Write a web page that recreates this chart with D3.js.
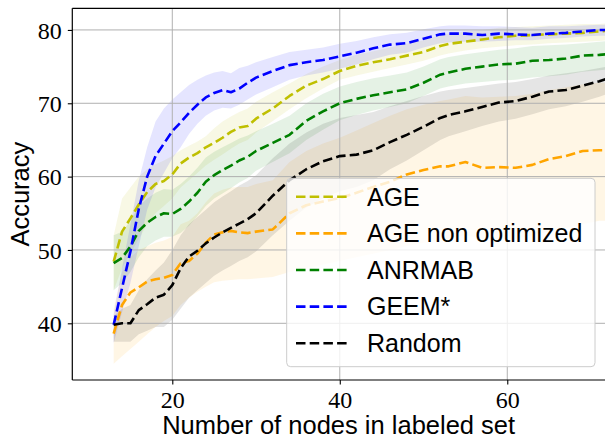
<!DOCTYPE html>
<html><head><meta charset="utf-8">
<script src="https://cdn.jsdelivr.net/npm/d3@7"></script>
<style>body{margin:0;background:#fff}svg{display:block}
.serif{font-family:"Liberation Serif","DejaVu Serif",serif}
.sans{font-family:"Liberation Sans",Arial,sans-serif}</style>
</head><body>
<svg id="c" width="605" height="439"></svg>
<script>
const xs = [13,14,15,16,17,18,19,20,21,22,23,24,25,26,27,28,29,30,32,34,36,38,40,42,44,46,48,50,52,53,55,57,59,61,63,65,67,69,71,72];

const seriesNames = ["AGE","AGE non optimized","ANRMAB","GEEM*","Random"];
const seriesColors = ["#bfbf00","#ffa500","#008000","#0000ff","#000000"];

const ageMean = [48.4,52.5,54.3,56.2,57.9,59.0,59.4,60.3,61.8,62.6,63.2,64.0,64.6,65.3,66.1,66.7,66.9,67.9,69.3,71.0,72.4,73.3,74.4,75.1,75.6,76.0,76.5,77.0,77.8,78.1,78.4,78.7,79.0,79.2,79.3,79.4,79.5,79.6,79.8,79.9];
const ageLow  = [44.5,47.5,49.5,51.5,53.5,55.0,56.0,57.0,58.5,59.5,60.5,61.5,62.3,63.0,63.8,64.5,65.0,66.0,67.6,69.2,70.7,72.0,73.2,73.8,74.3,74.8,75.3,75.8,76.5,76.8,77.2,77.5,77.7,77.9,78.0,78.2,78.3,78.4,78.5,78.6];
const ageHigh = [52.0,57.0,58.5,60.0,61.0,61.7,62.2,62.8,63.6,64.2,64.8,65.5,66.6,67.5,68.2,68.8,69.3,70.2,71.5,72.7,74.0,75.0,75.9,76.6,77.1,77.6,78.1,78.6,79.3,79.5,79.8,80.0,80.3,80.4,80.5,80.6,80.7,80.8,80.8,80.9];

const ageNoMean = [38.6,42.5,44.2,44.9,45.7,46.0,46.2,46.6,48.2,48.5,49.5,51.0,52.1,52.4,52.6,52.4,52.3,52.5,52.8,55.0,56.1,56.6,57.1,57.8,58.6,59.3,60.3,60.9,61.4,61.4,62.0,61.2,61.3,61.2,61.6,62.4,62.8,63.5,63.6,63.6];
const ageNoLow  = [34.5,35.5,36.5,37.5,38.5,39.5,40.3,41.0,42.5,43.5,44.3,45.0,45.6,45.8,45.9,46.0,46.0,46.1,46.3,47.0,47.5,48.0,48.5,49.0,49.5,50.0,50.5,51.0,51.3,51.5,52.0,51.5,51.5,51.5,52.0,52.5,53.0,53.5,54.0,54.0];
const ageNoHigh = [42.0,47.0,49.0,50.0,50.5,51.0,51.3,51.8,53.5,54.0,55.0,56.5,57.7,58.2,58.5,58.6,58.6,59.0,59.5,62.0,63.5,64.5,65.3,66.3,67.3,68.3,69.2,69.8,70.3,70.5,71.0,70.8,70.9,71.0,71.3,71.8,72.2,72.6,72.8,72.8];

const anrMean = [48.2,48.9,50.5,52.6,53.7,54.5,55.0,54.9,55.6,56.6,57.8,59.3,60.2,60.9,61.5,62.2,62.7,63.5,64.6,65.7,67.6,68.9,70.0,70.6,71.1,71.5,71.9,72.8,73.9,74.2,74.7,75.0,75.3,75.4,75.8,75.9,76.1,76.5,76.6,76.7];
const anrLow  = [44.5,45.5,47.0,49.0,50.5,51.3,51.8,51.8,52.3,53.3,54.6,56.0,57.0,57.7,58.4,59.2,59.8,60.8,62.0,63.2,65.0,66.4,67.7,68.4,69.0,69.5,70.0,71.0,72.0,72.3,72.7,72.9,73.1,73.2,73.5,73.7,73.9,74.3,74.5,74.6];
const anrHigh = [52.0,52.5,54.0,56.0,57.0,57.8,58.3,58.2,59.0,60.0,61.2,62.6,63.4,64.0,64.6,65.2,65.6,66.2,67.2,68.3,70.0,71.3,72.3,72.9,73.4,73.8,74.2,75.0,76.0,76.3,76.7,77.0,77.3,77.5,77.8,77.9,78.0,78.2,78.4,78.5];

const geemMean = [39.8,44.8,49.8,55.6,60.0,62.8,64.5,66.2,67.4,68.7,69.8,70.8,71.4,71.8,71.5,72.0,72.8,73.5,74.4,75.2,75.6,75.9,76.4,76.9,77.5,78.0,78.2,78.8,79.4,79.5,79.5,79.3,79.5,79.4,79.3,79.5,79.6,79.8,80.0,80.0];
const geemLow  = [37.3,41.5,45.5,50.5,55.5,58.5,60.5,62.5,64.0,65.8,67.2,68.3,69.0,69.4,69.3,69.8,70.5,71.2,72.2,73.2,73.8,74.2,74.7,75.3,76.0,76.6,76.9,77.6,78.2,78.3,78.4,78.4,78.5,78.6,78.6,78.8,78.9,79.1,79.2,79.2];
const geemHigh = [41.2,47.5,53.5,59.5,64.0,67.5,69.3,70.5,71.5,72.5,73.2,73.8,74.2,74.4,74.1,74.8,75.1,75.6,76.3,77.0,77.3,77.6,78.1,78.5,79.0,79.4,79.6,80.1,80.5,80.6,80.6,80.5,80.5,80.4,80.3,80.5,80.5,80.6,80.7,80.7];

const randMean = [39.8,40.0,40.0,41.8,42.6,43.5,43.9,45.2,47.5,49.1,49.9,50.9,51.7,52.4,53.0,53.6,54.2,55.0,57.4,59.5,61.0,62.1,62.8,63.0,63.6,64.7,65.7,66.8,68.0,68.4,68.9,69.5,70.1,70.3,70.9,71.6,71.8,72.4,73.0,73.4];
const randLow  = [37.5,37.5,37.5,38.5,39.0,39.5,39.5,40.5,42.0,43.5,44.5,45.5,46.5,47.2,47.8,48.5,49.0,49.8,52.0,54.0,55.8,57.0,58.0,58.6,59.5,61.0,62.2,63.6,65.0,65.5,66.2,66.9,67.5,67.9,68.5,69.2,69.6,70.2,70.9,71.3];
const randHigh = [41.0,42.0,42.5,44.5,46.0,47.2,48.3,50.0,52.0,53.5,54.5,55.5,56.5,57.3,58.0,58.8,59.4,60.2,62.5,64.5,66.0,67.2,68.0,68.4,68.8,69.6,70.3,71.0,71.6,71.8,72.1,72.4,72.7,72.9,73.3,73.8,74.1,74.4,74.8,75.0];

const xTicks = [20,40,60];
const yTicks = [40,50,60,70,80];
const xLabel = "Number of nodes in labeled set";
const yLabel = "Accuracy";

const means = [ageMean, ageNoMean, anrMean, geemMean, randMean];
const lows  = [ageLow, ageNoLow, anrLow, geemLow, randLow];
const highs = [ageHigh, ageNoHigh, anrHigh, geemHigh, randHigh];

const L = 72.3, R = 605, T = 8.3, B = 380;
const x = d3.scaleLinear().domain([8.06, 71.67]).range([L, R]);
const y = d3.scaleLinear().domain([32.27, 82.95]).range([B, T]);

const svg = d3.select("#c");
svg.append("defs").append("clipPath").attr("id","clip")
  .append("rect").attr("x",L).attr("y",T).attr("width",R-L).attr("height",B-T);

const plot = svg.append("g").attr("clip-path","url(#clip)");
const bandG = plot.append("g");
const gridG = plot.append("g");
const lineG = plot.append("g");

const area = d3.area().x(d=>x(d.x)).y0(d=>y(d.lo)).y1(d=>y(d.hi));
const line = d3.line().x(d=>x(d.x)).y(d=>y(d.m));

seriesNames.forEach((name,i)=>{
  const data = xs.map((xv,j)=>({x:xv, m:means[i][j], lo:lows[i][j], hi:highs[i][j]}));
  bandG.append("path").datum(data).attr("d",area)
    .attr("fill",seriesColors[i]).attr("fill-opacity",0.1).attr("stroke","none");
  lineG.append("path").datum(data).attr("d",line)
    .attr("fill","none").attr("stroke",seriesColors[i]).attr("stroke-width",2.6)
    .attr("stroke-dasharray","9.5,4.2").attr("stroke-linejoin","round");
});

// grid
xTicks.forEach(t=>gridG.append("line").attr("x1",x(t)).attr("x2",x(t)).attr("y1",T).attr("y2",B)
  .attr("stroke","#b0b0b0").attr("stroke-width",1));
yTicks.forEach(t=>gridG.append("line").attr("x1",L).attr("x2",R).attr("y1",y(t)).attr("y2",y(t))
  .attr("stroke","#b0b0b0").attr("stroke-width",1));

// axes
const xAxis = d3.axisBottom(x).tickValues(xTicks).tickSize(4.5).tickPadding(6).tickFormat(d3.format("d"));
const yAxis = d3.axisLeft(y).tickValues(yTicks).tickSize(4.5).tickPadding(6).tickFormat(d3.format("d"));
const gx = svg.append("g").attr("transform",`translate(0,${B})`).call(xAxis);
const gy = svg.append("g").attr("transform",`translate(${L},0)`).call(yAxis);
[gx,gy].forEach(g=>{
  g.attr("font-family",null).attr("font-size",null);
  g.select(".domain").remove();
  g.selectAll(".tick line").attr("stroke","#000").attr("stroke-width",1.1);
  g.selectAll(".tick text").attr("class","serif")
    .style("font-family","'Liberation Serif','DejaVu Serif',serif")
    .style("font-size","24px").attr("fill","#000");
});
gx.selectAll(".tick text").attr("dy","0.74em");
gy.selectAll(".tick text").attr("dy","0.34em");

// spines
svg.append("line").attr("x1",L).attr("x2",L).attr("y1",T).attr("y2",B).attr("stroke","#000").attr("stroke-width",1.2);
svg.append("line").attr("x1",L).attr("x2",R).attr("y1",B).attr("y2",B).attr("stroke","#000").attr("stroke-width",1.2);
svg.append("line").attr("x1",L).attr("x2",R).attr("y1",T).attr("y2",T).attr("stroke","#000").attr("stroke-width",1.2);

// axis labels
svg.append("text").attr("class","sans").attr("x",(L+R)/2).attr("y",434).attr("text-anchor","middle")
  .style("font-size","25.5px").text(xLabel);
svg.append("text").attr("class","sans").attr("transform",`translate(29,${(T+B)/2}) rotate(-90)`).attr("text-anchor","middle")
  .style("font-size","25.5px").text(yLabel);

// legend
const lg = svg.append("g");
lg.append("rect").attr("x",286.7).attr("y",178.3).attr("width",308.3).attr("height",188.4)
  .attr("rx",4).attr("fill","#fff").attr("fill-opacity",0.8).attr("stroke","#cccccc").attr("stroke-width",1);
seriesNames.forEach((name,i)=>{
  const cy = 196.7 + i*36.65;
  lg.append("line").attr("x1",296).attr("x2",347).attr("y1",cy).attr("y2",cy)
    .attr("stroke",seriesColors[i]).attr("stroke-width",2.6).attr("stroke-dasharray","9.5,4.2");
  lg.append("text").attr("class","sans").attr("x",367).attr("y",cy+8.8)
    .style("font-size","25px").text(name);
});
</script>
</body></html>
